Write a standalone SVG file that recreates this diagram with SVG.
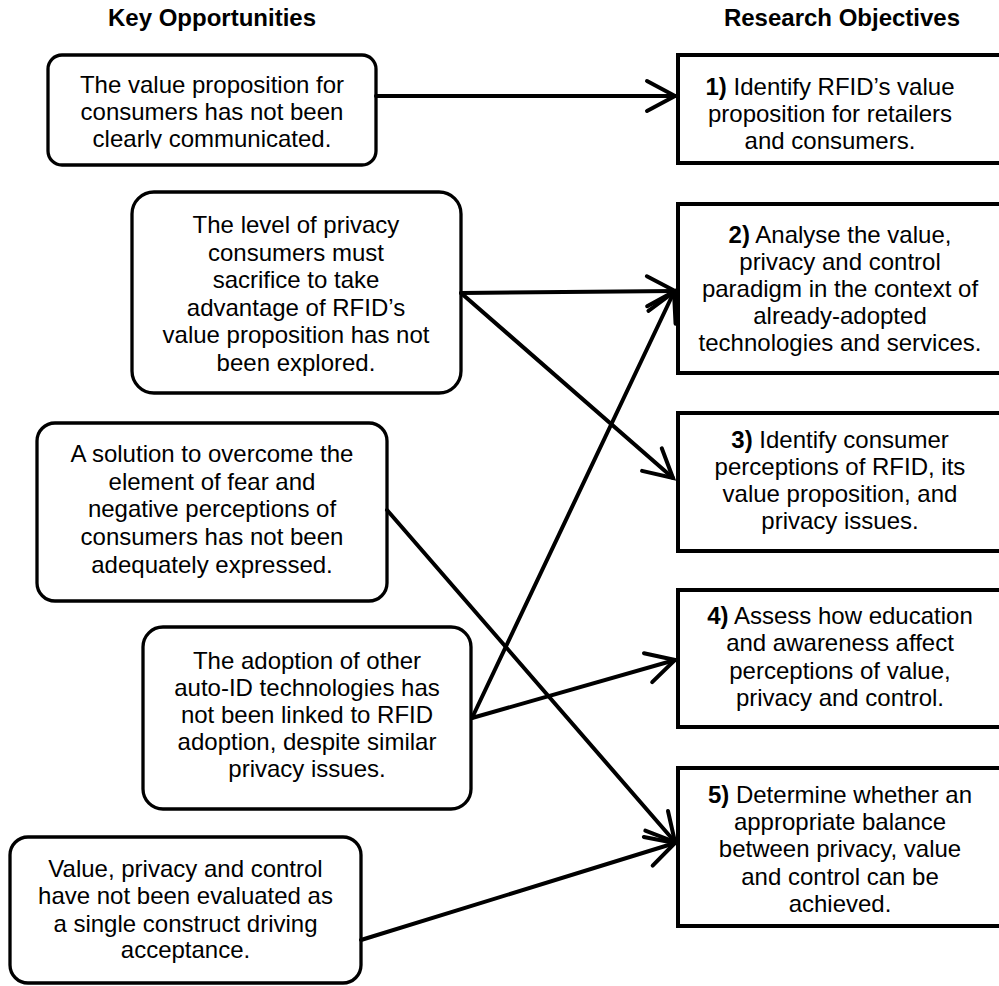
<svg xmlns="http://www.w3.org/2000/svg" width="999" height="986" viewBox="0 0 999 986">
  <style>
    text { font-family: "Liberation Sans", Arial, Helvetica, sans-serif; font-size: 24px; fill: #000; text-anchor: middle; }
    .head { font-weight: bold; }
    .num { font-weight: bold; }
    .opp { fill: #fff; stroke: #000; stroke-width: 3.3; }
    .obj { fill: #fff; stroke: #000; stroke-width: 4; }
    .link { fill: none; stroke: #000; stroke-width: 4; stroke-linecap: round; marker-end: url(#chev); }
  </style>
  <defs>
    <marker id="chev" markerUnits="userSpaceOnUse" markerWidth="40" markerHeight="40" viewBox="-34 -20 40 40" refX="0" refY="0" orient="auto">
      <path d="M -28 -15 L 0 0 L -28 15" fill="none" stroke="#000" stroke-width="4" stroke-linecap="round" stroke-linejoin="miter"/>
    </marker>
    <clipPath id="clipOpp1">
      <rect x="48" y="55" width="328" height="93.5"/>
    </clipPath>
  </defs>

  <rect width="999" height="986" fill="#fff"/>

  <!-- column headings -->
  <text class="head" x="212" y="26">Key Opportunities</text>
  <text class="head" x="842" y="26">Research Objectives</text>

  <!-- key opportunities -->
  <g id="opp1">
    <rect class="opp" x="48" y="55" width="328" height="110" rx="14"/>
    <g clip-path="url(#clipOpp1)">
      <text x="212" y="93">The value proposition for</text>
      <text x="212" y="120">consumers has not been</text>
      <text x="212" y="147">clearly communicated.</text>
    </g>
  </g>
  <g id="opp2">
    <rect class="opp" x="132" y="192" width="329" height="201" rx="22"/>
    <text x="296" y="233">The level of privacy</text>
    <text x="296" y="260.5">consumers must</text>
    <text x="296" y="288">sacrifice to take</text>
    <text x="296" y="315.5">advantage of RFID’s</text>
    <text x="296" y="343">value proposition has not</text>
    <text x="296" y="370.5">been explored.</text>
  </g>
  <g id="opp3">
    <rect class="opp" x="37" y="423" width="350" height="178" rx="18"/>
    <text x="212" y="462">A solution to overcome the</text>
    <text x="212" y="490">element of fear and</text>
    <text x="212" y="517">negative perceptions of</text>
    <text x="212" y="545">consumers has not been</text>
    <text x="212" y="573">adequately expressed.</text>
  </g>
  <g id="opp4">
    <rect class="opp" x="143" y="627" width="328" height="182" rx="20"/>
    <text x="307" y="669">The adoption of other</text>
    <text x="307" y="696">auto-ID technologies has</text>
    <text x="307" y="723">not been linked to RFID</text>
    <text x="307" y="750">adoption, despite similar</text>
    <text x="307" y="777">privacy issues.</text>
  </g>
  <g id="opp5">
    <rect class="opp" x="10" y="837" width="351" height="146" rx="18"/>
    <text x="185.5" y="877">Value, privacy and control</text>
    <text x="185.5" y="904">have not been evaluated as</text>
    <text x="185.5" y="932">a single construct driving</text>
    <text x="185.5" y="958">acceptance.</text>
  </g>

  <!-- research objectives -->
  <g id="obj1">
    <rect class="obj" x="678" y="55" width="340" height="108"/>
    <text x="830" y="95"><tspan class="num">1)</tspan> Identify RFID’s value</text>
    <text x="830" y="122">proposition for retailers</text>
    <text x="830" y="149">and consumers.</text>
  </g>
  <g id="obj2">
    <rect class="obj" x="678" y="204" width="340" height="169"/>
    <text x="840" y="243"><tspan class="num">2)</tspan> Analyse the value,</text>
    <text x="840" y="270">privacy and control</text>
    <text x="840" y="297">paradigm in the context of</text>
    <text x="840" y="323.5">already-adopted</text>
    <text x="840" y="350.5">technologies and services.</text>
  </g>
  <g id="obj3">
    <rect class="obj" x="678" y="413" width="340" height="138"/>
    <text x="840" y="448"><tspan class="num">3)</tspan> Identify consumer</text>
    <text x="840" y="475">perceptions of RFID, its</text>
    <text x="840" y="502">value proposition, and</text>
    <text x="840" y="529">privacy issues.</text>
  </g>
  <g id="obj4">
    <rect class="obj" x="678" y="590" width="340" height="137"/>
    <text x="840" y="624"><tspan class="num">4)</tspan> Assess how education</text>
    <text x="840" y="651">and awareness affect</text>
    <text x="840" y="679">perceptions of value,</text>
    <text x="840" y="706">privacy and control.</text>
  </g>
  <g id="obj5">
    <rect class="obj" x="678" y="768" width="340" height="158"/>
    <text x="840" y="803"><tspan class="num">5)</tspan> Determine whether an</text>
    <text x="840" y="830">appropriate balance</text>
    <text x="840" y="857">between privacy, value</text>
    <text x="840" y="885">and control can be</text>
    <text x="840" y="912">achieved.</text>
  </g>

  <!-- connectors -->
  <g id="connectors">
    <line class="link" x1="376" y1="96" x2="675" y2="96"/>
    <line class="link" x1="461" y1="293" x2="675" y2="291"/>
    <line class="link" x1="461" y1="293" x2="673" y2="478"/>
    <line class="link" x1="472" y1="718" x2="674" y2="292"/>
    <line class="link" x1="472" y1="718" x2="675" y2="660"/>
    <line class="link" x1="387" y1="510" x2="675" y2="842"/>
    <line class="link" x1="361" y1="940" x2="675" y2="843"/>
  </g>
</svg>
